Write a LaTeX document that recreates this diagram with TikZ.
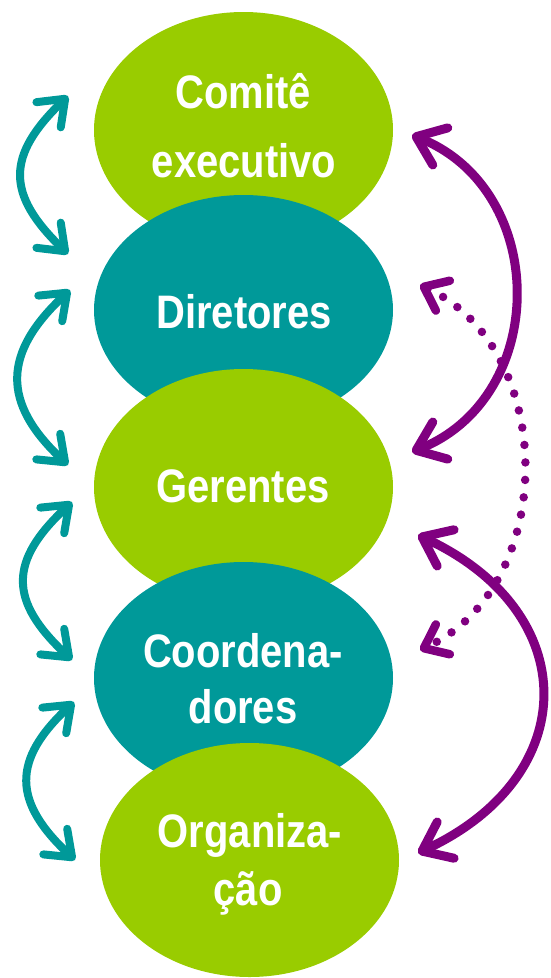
\documentclass[tikz,border=0pt]{standalone}
\usepackage{fontspec}
\newfontfamily\lblfont[FakeStretch=0.85]{Liberation Sans}
\usetikzlibrary{arrows.meta,shapes.geometric}
\definecolor{lgreen}{HTML}{99CC00}
\definecolor{lteal}{HTML}{009999}
\definecolor{lpurple}{HTML}{800080}
\begin{document}
\begin{tikzpicture}[x=1pt,y=-1pt,
  blob/.style={ellipse, minimum width=299pt, inner sep=0pt, outer sep=0pt, draw=none},
  gblob/.style={blob, fill=lgreen},
  tblob/.style={blob, fill=lteal},
  lbl/.style={anchor=base, text=white, inner sep=0pt, font=\lblfont\bfseries\fontsize{47}{56}\selectfont},
  tbarb/.tip={Straight Barb[length=23pt,width=35pt,round]},
  pbarb/.tip={Straight Barb[length=26pt,width=40pt,round]},
  dbarb/.tip={Straight Barb[length=21pt,width=33pt,round]},
  tarrow/.style={draw=lteal, line width=8pt, line cap=round, tbarb-tbarb},
  parrow/.style={draw=lpurple, line width=9pt, line cap=round, pbarb-pbarb},
  dparrow/.style={draw=lpurple, line width=8.5pt, line cap=round, dash pattern=on 0pt off 17.5pt, dbarb-dbarb}
]
\useasboundingbox (0,0) rectangle (550,978);
% ellipses
\node[gblob, minimum height=236pt] (e1) at (243.5,130) {};
\node[tblob, minimum height=230pt] (e2) at (243.5,310) {};
\node[gblob, minimum height=236pt] (e3) at (243.5,487) {};
\node[tblob, minimum height=232pt] (e4) at (243.5,678) {};
\node[gblob, minimum height=234pt] (e5) at (249.5,860) {};
% labels
\node[lbl] (l1a) at (243,108) {Comitê};
\node[lbl] (l1b) at (244,177) {executivo};
\node[lbl] (l2) at (244,328) {Diretores};
\node[lbl] (l3) at (243,502) {Gerentes};
\node[lbl] (l4a) at (243,667) {Coordena-};
\node[lbl] (l4b) at (243,723) {dores};
\node[lbl] (l5a) at (250,847) {Organiza-};
\node[lbl] (l5b) at (248,905) {ção};
% arrow end points
\coordinate (ta1) at (68,96);  \coordinate (tb1) at (68,254);
\coordinate (ta2) at (70,290); \coordinate (tb2) at (68,465);
\coordinate (ta3) at (72,502); \coordinate (tb3) at (72,660);
\coordinate (ta4) at (74,702); \coordinate (tb4) at (75,860);
\coordinate (pa1) at (412,135); \coordinate (pb1) at (412,452);
\coordinate (pa2) at (418,535); \coordinate (pb2) at (418,853);
\coordinate (da) at (420,285);  \coordinate (db) at (420,650);
% teal arrows (angles are screen angles)
\draw[tarrow] (ta1) to[out=224,in=136,looseness=1.4] (tb1);
\draw[tarrow] (ta2) to[out=223,in=137,looseness=1.34] (tb2);
\draw[tarrow] (ta3) to[out=223,in=137,looseness=1.41] (tb3);
\draw[tarrow] (ta4) to[out=223,in=137,looseness=1.38] (tb4);
% purple arrows
\draw[parrow] (pa1) to[out=-22,in=22,looseness=1.2] (pb1);
\draw[parrow] (pa2) to[out=-25,in=25,looseness=1.47] (pb2);
\draw[dparrow] (da) to[out=-25,in=25,looseness=1.07] (db);
\end{tikzpicture}
\end{document}
